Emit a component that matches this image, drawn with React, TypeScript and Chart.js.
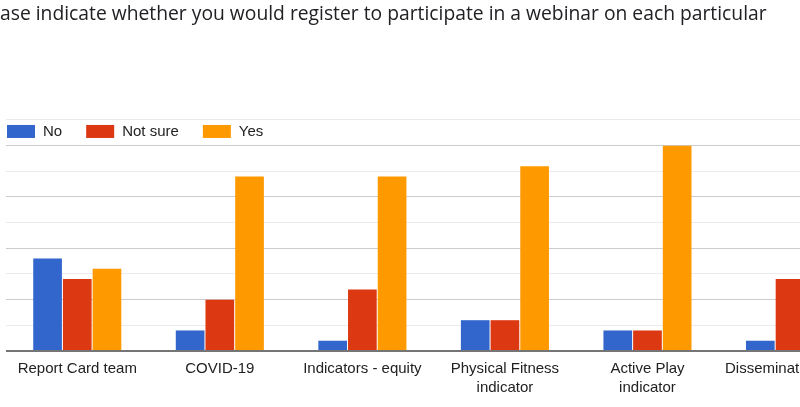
import React, { useEffect, useRef } from "react";
import { Chart, registerables } from "chart.js";

Chart.register(...registerables);

const titleText =
  "ase indicate whether you would register to participate in a webinar on each particular";

const categories: (string | string[])[] = [
  "Report Card team",
  "COVID-19",
  "Indicators - equity",
  ["Physical Fitness", "indicator"],
  ["Active Play", "indicator"],
  "Dissemination tools",
];

const seriesNames = ["No", "Not sure", "Yes"];
const seriesColors = ["#3366cc", "#dc3912", "#ff9900"];

const noValues = [9, 2, 1, 3, 2, 1];
const notSureValues = [7, 5, 6, 3, 2, 7];
const yesValues: (number | null)[] = [8, 17, 17, 18, 20, null];

const yMax = 22.5;
const yStep = 2.5;
const xVisibleMax = 5.07;

const legendPlugin = {
  id: "innerLegend",
  afterDatasetsDraw(chart: any) {
    const { ctx, chartArea } = chart;
    ctx.save();
    ctx.font = "15px 'Liberation Sans', Arial, sans-serif";
    ctx.textBaseline = "middle";
    let x = 7;
    const top = chartArea.top + 5;
    const boxW = 28;
    const boxH = 13;
    chart.data.datasets.forEach((ds: any) => {
      ctx.fillStyle = ds.backgroundColor;
      ctx.fillRect(x, top, boxW, boxH);
      x += boxW + 8;
      ctx.fillStyle = "#222222";
      ctx.fillText(ds.label, x, top + boxH / 2 + 0.5);
      x += ctx.measureText(ds.label).width + 24;
    });
    ctx.restore();
  },
};

export default function App() {
  const ref = useRef<HTMLCanvasElement | null>(null);

  useEffect(() => {
    document.body.style.margin = "0";
    const valuesList = [noValues, notSureValues, yesValues];
    const chart = new Chart(ref.current as HTMLCanvasElement, {
      type: "bar",
      data: {
        datasets: seriesNames.map((name, si) => ({
          label: name,
          data: categories.map((_, i) => ({ x: i, y: valuesList[si][i] })),
          backgroundColor: seriesColors[si],
          categoryPercentage: 0.625,
          barPercentage: 0.966,
        })),
      } as any,
      options: {
        animation: false,
        responsive: false,
        layout: { padding: { left: 0, right: 0, top: 0, bottom: 1 } },
        plugins: {
          legend: { display: false },
          tooltip: { enabled: false },
          title: {
            display: true,
            text: titleText,
            align: "start",
            color: "#202124",
            font: { family: "'Open Sans', sans-serif", size: 19.3, weight: "normal", lineHeight: 1.2 },
            padding: { top: 3, bottom: 93.8 },
          },
        },
        scales: {
          x: {
            type: "linear",
            offset: false,
            min: -0.5,
            max: xVisibleMax,
            grid: { display: false, drawTicks: false, offset: false },
            border: { display: false },
            afterBuildTicks: (axis: any) => {
              axis.ticks = categories.map((_, i) => ({ value: i }));
            },
            afterFit: (axis: any) => {
              axis.paddingLeft = 0;
              axis.paddingRight = 0;
            },
            ticks: {
              autoSkip: false,
              maxRotation: 0,
              minRotation: 0,
              padding: 8,
              color: "#222222",
              font: { family: "'Liberation Sans', Arial, sans-serif", size: 15, lineHeight: 1.3 },
              callback: (value: any) => categories[value as number] as any,
            },
          },
          y: {
            min: 0,
            max: yMax,
            ticks: { display: false, stepSize: yStep },
            border: { display: false },
            afterFit: (axis: any) => {
              axis.width = 6;
            },
            grid: {
              drawTicks: false,
              color: (c: any) =>
                c.tick.value === 0 ? "#757575" : c.tick.value % 5 === 0 ? "#cccccc" : "#ebebeb",
              lineWidth: (c: any) => (c.tick.value === 0 ? 2 : 1),
            },
          },
        },
      } as any,
      plugins: [legendPlugin],
    });
    return () => chart.destroy();
  }, []);

  return <canvas ref={ref} width={800} height={407} style={{ display: "block" }} />;
}
